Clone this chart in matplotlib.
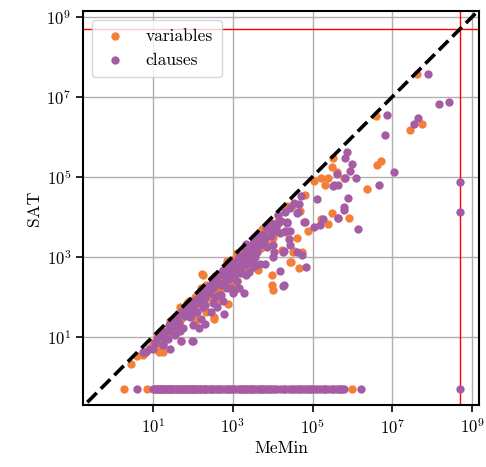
import matplotlib
matplotlib.use("Agg")
import matplotlib.pyplot as plt
from matplotlib.ticker import LogFormatterSciNotation

plt.rcParams['font.family'] = ['cmr10', 'DejaVu Serif']
plt.rcParams['mathtext.fontset'] = 'cm'
plt.rcParams['axes.formatter.use_mathtext'] = True
plt.rcParams['axes.unicode_minus'] = False

# ---- data: (MeMin, SAT) pairs ----
var_memin = [4.1e7, 3.9e6, 5.6e7, 2.8e7, 3.3e5, 5.2e6, 4.2e6, 3.0e5, 4.1e5, 6.0e5,
             1.6e5, 2.5e5, 2.0e5, 2.3e6, 3.1e5, 8.1e5, 1.6e5, 2.5e5, 4.9e4, 2.3e4,
             1.4e4, 7.6e4, 4.1e4, 1.0e4, 1.7e4, 3.4e4, 6.5e3, 2.0e3, 1.3e3, 1.4e4,
             5.4e3, 5.1e3, 3.3e4, 5.5e4, 2.9e4, 4.5e4, 9.5e3, 1.0e4, 2.0e4, 3.2e3,
             1.0e4, 3.6e3, 2.8e4, 9.5e3, 4.4e3, 1.0e3, 6.5e2, 1.7e2,
             2.9, 14, 52, 15, 27, 115, 330, 69, 140, 180,
             480, 780, 1.3e3, 950, 1.7e3, 710, 330, 6.6, 18, 8.9,
             35, 40, 79, 160, 250, 500, 2.5e3, 4.0e3, 6.3e3, 7.9e3,
             100, 200, 22, 400, 2.0e3, 3.2e3, 5.0e3, 890, 10, 50,
             280, 1.4e3, 3.5e3, 7.9e3, 1.3e4, 200, 300, 140, 48, 330,
             400, 15, 18, 32, 112, 220, 800, 1.1e3, 13, 4.0,
             25, 35, 56, 89, 126, 180, 250, 350, 450, 560,
             790, 1000, 1600, 2200, 2800, 18, 13, 5.6, 112, 220,
             1100, 2000, 140, 71, 3.2e4, 6.3e4, 1.1e5]
var_sat = [3.8e7, 3.3e6, 2.1e6, 1.5e6, 2.9e5, 2.5e5, 2.0e5, 1.7e5, 1.3e5, 9.5e4,
           9.3e4, 9.3e4, 6.3e4, 4.8e4, 1.2e4, 9.5e3, 8.7e3, 6.6e3, 1.4e4, 1.9e4,
           7.9e3, 4.5e3, 3.0e3, 3.0e3, 1.5e3, 1.4e3, 3.2e3, 9.5e2, 1.2e3, 1.1e4,
           5.0e3, 2.6e3, 1.3e3, 1.3e3, 7.5e2, 5.2e2, 3.5e2, 1.5e2, 4.2e3, 2.0e3,
           3.7e3, 2.1e3, 7.2e2, 1.9e2, 4.5e2, 1.9e2, 3.0e2, 3.7e2,
           2.1, 4.1, 7.9, 13, 25, 21, 30, 54, 120, 340,
           170, 66, 250, 600, 790, 790, 250, 4.0, 6.6, 5.6,
           16, 32, 79, 160, 100, 400, 1.6e3, 2.5e3, 5.0e3, 7.1e3,
           40, 50, 10, 126, 500, 790, 1.6e3, 320, 7.1, 28,
           200, 560, 1.1e3, 2.0e3, 6.3e3, 89, 140, 66, 54, 28,
           72, 6.0, 4.1, 20, 100, 200, 630, 890, 10, 3.2,
           18, 25, 40, 56, 71, 100, 140, 200, 280, 160,
           400, 280, 500, 1000, 1600, 14, 7.9, 3.5, 28, 40,
           140, 1600, 126, 71, 2.0e4, 3.5e4, 7.9e4]

cls_memin = [7.9e7, 1.5e8, 2.6e8, 7.4e6, 4.5e7, 3.5e7, 6.5e6, 7.1e5, 6.5e5, 1.0e6,
             8.5e5, 4.0e5, 1.2e6, 1.1e7, 3.2e5, 4.4e5, 4.6e6, 5e8, 5e8, 1.3e5,
             7.8e5, 6.0e5, 4.4e5, 1.8e5, 6.6e4, 1.1e5, 1.4e6, 3.4e5, 6.6e5, 4.7e4,
             4.4e4, 6.0e5, 4.3e5, 1.4e4, 2.3e4, 6.9e3, 1.3e4, 2.1e4, 2.8e4, 5.9e3,
             4.7e3, 1.0e4, 2.8e4, 5.5e4, 2.2e3, 3.6e3, 1.0e4, 1.4e4, 2.3e4, 6.2e4,
             1.5e5, 7.9e3, 1.5e4, 2.5e4, 3.3e3, 1.1e4, 1.8e4, 6.9e4, 1.5e4, 1.8e4,
             6.5e3, 4.0e3, 4.1e4, 5.4e3, 7.1e3, 1.9e4, 4.1e4, 1.9e4, 2.5e3, 1.3e3,
             400,
             5.8, 27, 100, 24, 48, 85, 200, 590, 115, 220,
             300, 440, 400, 1.0e3, 1.9e3, 1.5e3, 790, 2.2e3, 4.9e3, 590,
             27, 93, 52, 6.3,
             13, 20, 32, 40, 63, 79, 100, 126, 160, 200,
             250, 320, 350, 450, 500, 630, 710, 890, 1.0e3, 1.1e3,
             1.3e3, 1.6e3, 1.8e3, 2.0e3, 2.5e3, 2.8e3, 3.2e3, 4.0e3, 4.5e3, 5.6e3,
             7.1e3, 8.9e3, 160, 280, 560, 56, 35, 890, 1.3e3, 200,
             350, 16, 10, 18, 100, 140, 25, 71, 180, 500,
             2.2e3, 3.5e3,
             320, 400, 560, 710, 790, 1000, 1100, 1400, 1600, 1800,
             2000, 2500, 2800, 250, 200, 160, 126, 100, 79, 63,
             50, 40, 32, 28, 45, 89, 180, 320, 500, 630,
             1300, 1400, 2200, 3200, 4000, 5000, 6300, 8900, 1.1e4, 1.6e4,
             2.0e4, 2.8e4, 3.5e4, 5.0e4, 20, 11, 7.9]
cls_sat = [3.7e7, 6.6e6, 7.2e6, 3.5e6, 3.0e6, 2.1e6, 1.1e6, 4.2e5, 3.0e5, 2.1e5,
           1.4e5, 1.2e5, 9.5e4, 1.3e5, 6.0e4, 6.3e4, 6.3e4, 7.2e4, 1.3e4, 2.8e4,
           2.9e4, 1.7e4, 9.5e3, 8.7e3, 7.2e3, 5.4e3, 4.9e3, 6.3e4, 9.5e4, 2.1e4,
           1.3e4, 1.5e4, 9.3e3, 1.1e4, 7.2e3, 5.4e3, 4.3e3, 4.3e3, 4.5e3, 2.5e3,
           1.9e3, 1.9e3, 1.9e3, 1.1e3, 2.1e3, 1.0e3, 1.0e3, 6.8e3, 6.8e3, 7.2e3,
           6.3e3, 5.0e3, 4.0e3, 2.8e3, 2.1e3, 1.3e3, 1.3e3, 5.6e2, 4.3e2, 1.8e2,
           6.6e2, 6.3e2, 1.2e4, 3.4e3, 1.7e3, 1.4e3, 1.3e3, 1.9e2, 4.1e2, 6.6e2,
           250,
           4.1, 4.9, 7.6, 8.7, 14, 30, 21, 37, 66, 140,
           280, 110, 54, 120, 120, 450, 500, 660, 660, 340,
           17, 7.9, 7.9, 4.1,
           8.9, 13, 20, 18, 32, 45, 56, 40, 79, 100,
           126, 160, 100, 220, 200, 320, 160, 400, 560, 320,
           790, 890, 1.1e3, 710, 1.3e3, 790, 1.6e3, 2.0e3, 3.2e3, 3.5e3,
           5.6e3, 7.1e3, 28, 40, 79, 16, 11, 160, 250, 63,
           320, 11, 5.0, 6.3, 20, 16, 20, 56, 140, 400,
           1.8e3, 2.8e3,
           220, 320, 450, 560, 280, 710, 500, 1000, 400, 630,
           1300, 890, 2000, 180, 140, 110, 89, 79, 63, 50,
           40, 28, 25, 14, 22, 35, 56, 71, 110, 220,
           400, 160, 350, 560, 1300, 2200, 2800, 3200, 5000, 7900,
           1.3e4, 1.6e4, 2.2e4, 3.2e4, 8.9, 7.1, 5.0]

# instances with SAT = 0, drawn at the floor value
zero_level = 0.5
var_zero_memin = [1.9, 7, 12, 16, 20, 28, 40, 55, 70, 90, 130, 200, 300, 450, 700,
                  1000, 1500, 2300, 3500, 5000, 8000, 1.2e4, 2e4, 3e4, 5e4, 8e4,
                  1.3e5, 2e5, 3e5, 1e6]
cls_zero_memin = [3.9, 10, 11, 12, 13, 14, 15, 16, 17, 18, 20, 22, 24, 26, 28, 30,
                  32, 35, 40, 45, 50, 55, 60, 65, 70, 75, 85, 95, 100, 110, 120,
                  130, 150, 160, 180, 200, 220, 250, 280, 300, 350, 400, 450, 500,
                  600, 700, 800, 900, 1000, 1200, 1400, 1600, 1800, 2000, 2200,
                  2500, 2800, 3000, 3500, 4000, 4500, 5000, 5500, 6000, 7000, 8000,
                  9000, 1e4, 1.2e4, 1.5e4, 1.8e4, 2e4, 2.5e4, 3e4, 3.5e4, 4e4,
                  4.5e4, 5e4, 6e4, 7e4, 8e4, 9e4, 1e5, 1.2e5, 1.5e5, 1.8e5, 2e5,
                  2.5e5, 3e5, 3.5e5, 4e5, 4.5e5, 5e5, 5.5e5, 6e5, 1.6e6, 5e8]

timeout = 5e8
series_labels = ["variables", "clauses"]
c_var = "#F47F3B"
c_cls = "#A65CA4"

fig = plt.figure(figsize=(4.86, 4.67), dpi=100)
ax = fig.add_axes([0.171, 0.132, 0.815, 0.844])

ax.scatter(var_memin + var_zero_memin, var_sat + [zero_level] * len(var_zero_memin),
           s=36, color=c_var, linewidths=0, label=series_labels[0], zorder=2)
ax.scatter(cls_memin + cls_zero_memin, cls_sat + [zero_level] * len(cls_zero_memin),
           s=36, color=c_cls, linewidths=0, label=series_labels[1], zorder=2)

ax.set_xscale('log')
ax.set_yscale('log')
xlim = (0.178, 1.5e9)
ylim = (0.19, 1.38e9)
ax.plot([1e-2, 1e10], [1e-2, 1e10], color='black', ls='--', lw=2.6, zorder=3)
ax.axvline(timeout, color='red', lw=1.0, zorder=1.5)
ax.axhline(timeout, color='red', lw=1.0, zorder=1.5)
ax.set_xlim(xlim)
ax.set_ylim(ylim)

ticks = [1e1, 1e3, 1e5, 1e7, 1e9]
ax.set_xticks(ticks)
ax.set_yticks(ticks)
ax.xaxis.set_major_formatter(LogFormatterSciNotation())
ax.yaxis.set_major_formatter(LogFormatterSciNotation())
ax.minorticks_off()
ax.tick_params(axis='both', which='major', labelsize=12, length=5, width=1.2, direction='out')
ax.grid(True, color='#b0b0b0', lw=1.0, zorder=0)
ax.set_axisbelow(True)
for sp in ax.spines.values():
    sp.set_linewidth(1.5)

ax.set_xlabel("MeMin", fontsize=12.5, labelpad=3)
ax.set_ylabel("SAT", fontsize=12.5, labelpad=3)

leg = ax.legend(loc='upper left', fontsize=12.5, handletextpad=0.9, handlelength=1.7,
                borderpad=0.5, scatterpoints=1, markerscale=1.0)

fig.savefig("out.png", dpi=100)
